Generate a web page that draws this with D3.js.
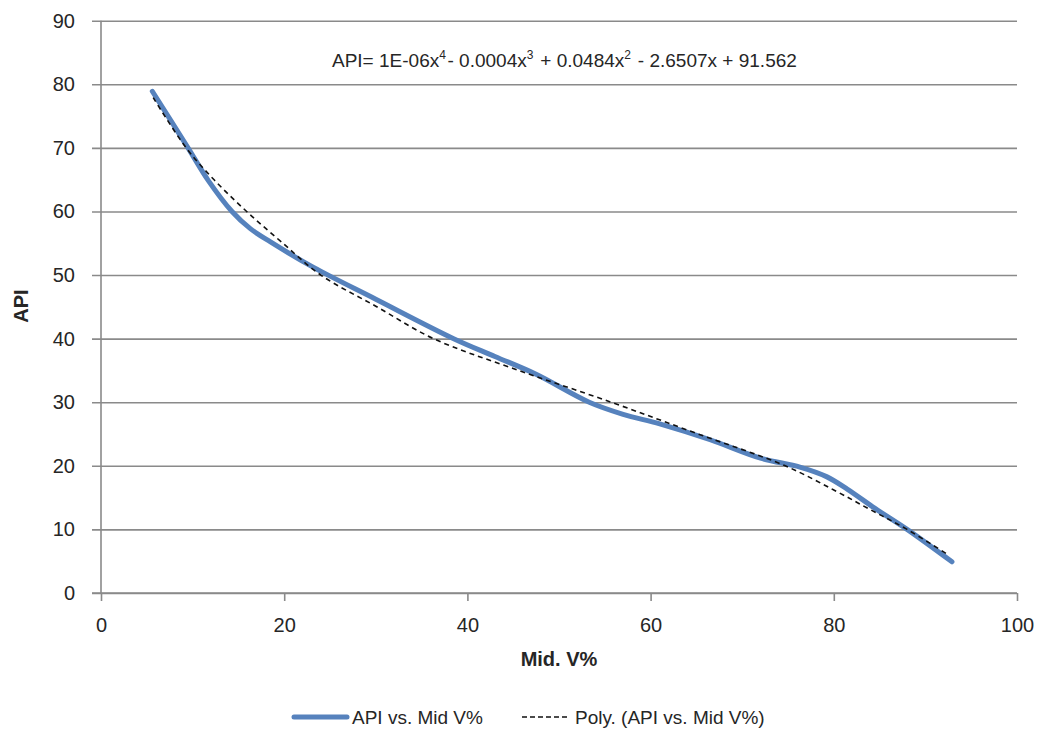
<!DOCTYPE html>
<html>
<head>
<meta charset="utf-8">
<script src="https://cdn.jsdelivr.net/npm/d3@7"></script>
<style>
  html, body { margin: 0; padding: 0; background: #fff; }
  svg { display: block; }
  text { font-family: "Liberation Sans", Arial, sans-serif; fill: #262626; }
</style>
</head>
<body>
<svg id="chart" width="1044" height="730"></svg>
<script>
// API vs. Mid V% (smoothed measured curve)
const midV = [5.6, 9.5, 11.7, 14.3, 16.3, 18.5, 23.2, 30, 38.5, 43, 47.5, 53.3, 57, 61, 66.5, 72, 76.3, 79.2, 81.5, 84.5, 88, 92.9];
const api  = [78.9, 70, 64.9, 60, 57.3, 55.2, 51.2, 46.2, 40, 37.2, 34.4, 30, 28.1, 26.6, 24.1, 21.2, 19.8, 18.3, 16.3, 13.3, 10, 4.9];

// 4th-order polynomial trend line of the same series
const polyX = [5.7, 9.3, 12.4, 15.9, 19.7, 24, 30, 36.3, 45, 55.7, 65, 74.7, 80, 84, 88, 92.5];
const polyY = [77.9, 70, 64.9, 60, 55.2, 50, 45.1, 40, 35.3, 30, 25.1, 20, 16.2, 13.1, 10, 6.0];

const xTicks = [0, 20, 40, 60, 80, 100];
const yTicks = [0, 10, 20, 30, 40, 50, 60, 70, 80, 90];

const seriesName = "API vs. Mid V%";
const trendName = "Poly. (API vs. Mid V%)";
const equation = [
  {t: "API= 1E-06x"}, {t: "4", sup: true}, {t: "- 0.0004x"}, {t: "3", sup: true},
  {t: " + 0.0484x"}, {t: "2", sup: true}, {t: " - 2.6507x  + 91.562"}
];

const svg = d3.select("#chart");
const plotL = 101, plotR = 1017, plotT = 20.7, plotB = 593;
const x = d3.scaleLinear().domain([0, 100]).range([plotL, plotR]);
const y = d3.scaleLinear().domain([0, 90]).range([plotB, plotT]);
const gridColor = "#8a8a8a";

// horizontal gridlines with left tick marks
const yAxis = svg.append("g")
  .attr("transform", `translate(${plotL},0)`)
  .call(d3.axisLeft(y).tickValues(yTicks).tickSizeInner(-(plotR - plotL)).tickSizeOuter(0).tickPadding(26));
yAxis.select(".domain").remove();
yAxis.selectAll(".tick line").attr("x1", -9).attr("x2", plotR - plotL)
  .attr("stroke", gridColor).attr("stroke-width", 1.6);
yAxis.selectAll(".tick text").attr("font-size", 20).attr("fill", "#262626")
  .attr("font-family", "Liberation Sans, Arial, sans-serif");

// vertical axis line
svg.append("line").attr("x1", plotL).attr("x2", plotL).attr("y1", plotT).attr("y2", plotB)
  .attr("stroke", gridColor).attr("stroke-width", 1.6);

// x axis
const xAxis = svg.append("g")
  .attr("transform", `translate(0,${plotB})`)
  .call(d3.axisBottom(x).tickValues(xTicks).tickSizeInner(8).tickSizeOuter(0).tickPadding(17));
xAxis.select(".domain").remove();
xAxis.selectAll(".tick line").attr("stroke", gridColor).attr("stroke-width", 1.6);
xAxis.selectAll(".tick text").attr("font-size", 20).attr("fill", "#262626")
  .attr("font-family", "Liberation Sans, Arial, sans-serif");
svg.append("line").attr("x1", plotL - 9).attr("x2", plotR).attr("y1", plotB).attr("y2", plotB)
  .attr("stroke", gridColor).attr("stroke-width", 1.6);

// measured series
const line = d3.line().x(d => x(d[0])).y(d => y(d[1])).curve(d3.curveCatmullRom.alpha(0.5));
svg.append("path")
  .datum(midV.map((v, i) => [v, api[i]]))
  .attr("d", line)
  .attr("fill", "none").attr("stroke", "#5682bd").attr("stroke-width", 5)
  .attr("stroke-linecap", "round").attr("stroke-linejoin", "round");

// polynomial trend
svg.append("path")
  .datum(polyX.map((v, i) => [v, polyY[i]]))
  .attr("d", line)
  .attr("fill", "none").attr("stroke", "#111").attr("stroke-width", 1.6)
  .attr("stroke-dasharray", "5,4");

// trend equation
const eq = svg.append("text").attr("x", 332).attr("y", 67).attr("font-size", 19);
equation.forEach(p => {
  if (p.sup) {
    eq.append("tspan").attr("font-size", 12).attr("dy", -8).text(p.t);
    eq.append("tspan").attr("dy", 8).text("\u200a");
  } else {
    eq.append("tspan").text(p.t);
  }
});

// axis titles
svg.append("text").attr("x", (plotL + plotR) / 2).attr("y", 666)
  .attr("text-anchor", "middle").attr("font-weight", "bold").attr("font-size", 20).text("Mid. V%");
svg.append("text").attr("transform", "translate(28,306) rotate(-90)")
  .attr("text-anchor", "middle").attr("font-weight", "bold").attr("font-size", 20).text("API");

// legend
const ly = 717;
svg.append("line").attr("x1", 294).attr("x2", 347).attr("y1", ly).attr("y2", ly)
  .attr("stroke", "#5682bd").attr("stroke-width", 5).attr("stroke-linecap", "round");
svg.append("text").attr("x", 352).attr("y", ly + 7).attr("font-size", 19).text(seriesName);
svg.append("line").attr("x1", 522).attr("x2", 568).attr("y1", ly).attr("y2", ly)
  .attr("stroke", "#111").attr("stroke-width", 1.5).attr("stroke-dasharray", "5,3");
svg.append("text").attr("x", 575).attr("y", ly + 7).attr("font-size", 19).text(trendName);
</script>
</body>
</html>
